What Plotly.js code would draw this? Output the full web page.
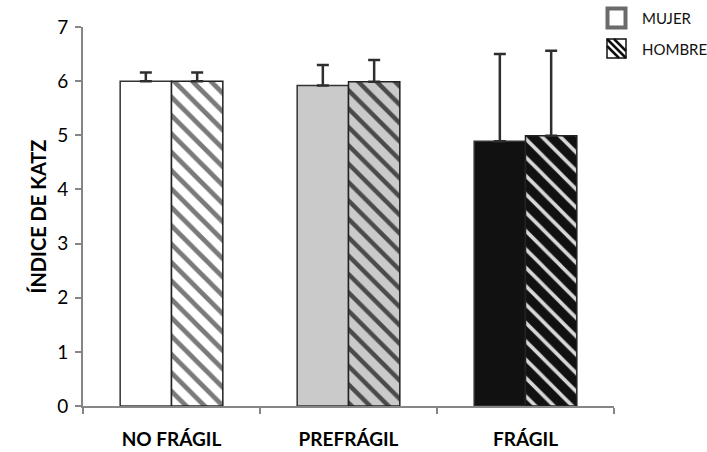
<!DOCTYPE html>
<html>
<head>
<meta charset="utf-8">
<script src="https://cdn.plot.ly/plotly-3.0.1.min.js"></script>
<style>
  html, body { margin: 0; padding: 0; background: #fff; }
  #chart { width: 707px; height: 452px; }
</style>
</head>
<body>
<div id="chart"></div>
<script>
// Frailty groups on the x axis
const categories = ['NO FRÁGIL', 'PREFRÁGIL', 'FRÁGIL'];

// Mean Katz index by sex, with the upper error (SD)
const mujerValues = [6.00, 5.92, 4.89];
const mujerErrors = [0.16, 0.38, 1.61];
const hombreValues = [6.00, 5.99, 4.99];
const hombreErrors = [0.16, 0.40, 1.57];

const seriesNames = ['MUJER', 'HOMBRE'];
const yTitle = 'ÍNDICE DE KATZ';

// Per-group fills (white, light grey, black) and the stripe colour used on each
const groupFills = ['#ffffff', '#cacaca', '#111111'];
const stripeColors = ['#7a7a7a', '#4a4a4a', '#d8d8d8'];
const stripeSolidity = [0.36, 0.34, 0.28];

const W = 707, H = 452;
const M = { l: 83, r: 93, t: 27, b: 46 };
const pw = W - M.l - M.r, ph = H - M.t - M.b;
const px = x => (x - M.l) / pw;
const py = y => (H - M.b - y) / ph;

const FONT = 'Lato, "Open Sans", sans-serif';
const AXIS_GREY = '#868686';

const errStyle = (arr) => ({
  type: 'data', symmetric: false, array: arr,
  arrayminus: arr.map(() => 0),
  color: '#2e2e2e', thickness: 2.5, width: 6
});

// Women: plain fills, one trace across the three groups
const traces = [{
  type: 'bar', name: seriesNames[0], x: categories, y: mujerValues,
  offsetgroup: 'mujer',
  marker: { color: groupFills, line: { color: '#333333', width: 1.5 } },
  error_y: errStyle(mujerErrors),
  showlegend: false, hoverinfo: 'skip'
}];

// Men: hatched fills; each group gets its own stripe colouring,
// all sharing one offset slot so they sit beside the women's bars
categories.forEach((cat, i) => {
  traces.push({
    type: 'bar', name: seriesNames[1], x: [cat], y: [hombreValues[i]],
    offsetgroup: 'hombre',
    marker: {
      color: groupFills[i],
      line: { color: '#222222', width: 1.5 },
      pattern: {
        shape: '\\', size: 13, solidity: stripeSolidity[i],
        bgcolor: groupFills[i], fgcolor: stripeColors[i],
        fgopacity: 1, fillmode: 'overlay'
      }
    },
    error_y: errStyle([hombreErrors[i]]),
    showlegend: false, hoverinfo: 'skip'
  });
});

// Legend keys drawn as shapes in the top-right corner
const k1 = { x0: 607.5, x1: 625.5, y0: 8.5, y1: 27.5 };
const k2 = { x0: 607, x1: 626, y0: 39, y1: 58 };
const hatch = [];
[-7, 0, 7].forEach(o => {
  const ax = Math.max(k2.x0, k2.x0 + o), ay = Math.max(k2.y0, k2.y0 - o);
  const bx = Math.min(k2.x1, k2.x1 + o), by = Math.min(k2.y1, k2.y1 - o);
  hatch.push(`M${px(ax)},${py(ay)} L${px(bx)},${py(by)}`);
});

const shapes = [
  { type: 'rect', xref: 'paper', yref: 'paper',
    x0: px(k1.x0), x1: px(k1.x1), y0: py(k1.y1), y1: py(k1.y0),
    fillcolor: '#ffffff', line: { color: '#6a6a6a', width: 4 } },
  { type: 'rect', xref: 'paper', yref: 'paper',
    x0: px(k2.x0), x1: px(k2.x1), y0: py(k2.y1), y1: py(k2.y0),
    fillcolor: '#ffffff', line: { color: '#111111', width: 1.5 } },
  { type: 'path', xref: 'paper', yref: 'paper', path: hatch.join(' '),
    line: { color: '#111111', width: 2.5 } }
];

const annotations = [
  { text: seriesNames[0], xref: 'paper', yref: 'paper',
    x: px(640), y: py(18), xanchor: 'left', yanchor: 'middle', showarrow: false,
    font: { family: FONT, size: 15, color: '#111' } },
  { text: seriesNames[1], xref: 'paper', yref: 'paper',
    x: px(640), y: py(49), xanchor: 'left', yanchor: 'middle', showarrow: false,
    font: { family: FONT, size: 15, color: '#111' } }
];

const layout = {
  width: W, height: H,
  margin: M,
  paper_bgcolor: '#ffffff', plot_bgcolor: '#ffffff',
  barmode: 'group', bargap: 0.42, bargroupgap: 0,
  showlegend: false,
  font: { family: FONT, color: '#000' },
  xaxis: {
    type: 'category', range: [-0.5, 2.5],
    categoryorder: 'array', categoryarray: categories,
    showline: true, linecolor: AXIS_GREY, linewidth: 2,
    ticks: 'outside', tickson: 'boundaries', ticklen: 6, tickwidth: 2, tickcolor: AXIS_GREY,
    ticklabelstandoff: 15,
    tickfont: { family: FONT, size: 19, color: '#000', weight: 'bold' },
    showgrid: false, zeroline: false, fixedrange: true
  },
  yaxis: {
    range: [0, 7], dtick: 1, tick0: 0,
    showline: true, linecolor: AXIS_GREY, linewidth: 2,
    ticks: 'outside', ticklen: 6, tickwidth: 2, tickcolor: AXIS_GREY,
    ticklabelstandoff: 3,
    tickfont: { family: FONT, size: 19, color: '#000' },
    showgrid: false, zeroline: false, fixedrange: true,
    title: { text: yTitle, standoff: 5,
      font: { family: FONT, size: 20, color: '#000', weight: 'bold' } }
  },
  shapes: shapes,
  annotations: annotations
};

Plotly.newPlot('chart', traces, layout, { staticPlot: true, displayModeBar: false });
</script>
</body>
</html>
